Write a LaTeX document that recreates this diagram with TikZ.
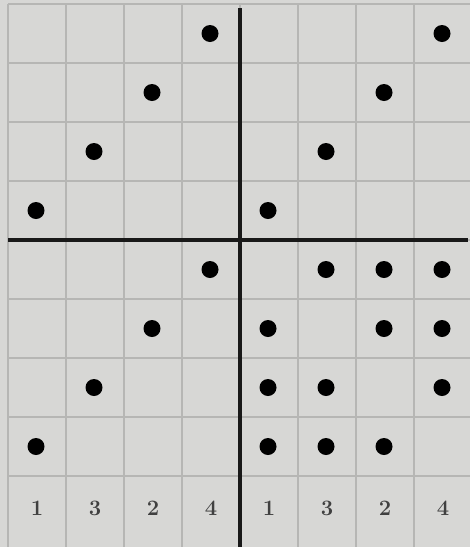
\documentclass[tikz,border=0pt]{standalone}
\usepackage{tikz}
\usetikzlibrary{positioning}
\definecolor{sheetgray}{RGB}{215,215,213}
\definecolor{rulegray}{RGB}{182,182,180}
\tikzset{
  perm grid/.style={draw=rulegray,line width=1pt},
  perm axis/.style={draw=black!90,line width=2pt},
  perm peg/.style={circle,fill=black,minimum size=8.5pt,inner sep=0pt},
  perm label/.style={font=\fontsize{11}{13}\selectfont\bfseries,text=black!75,inner sep=1pt}
}

\begin{document}
\begin{tikzpicture}[x=0.5pt,y=-0.5pt]
  \fill[sheetgray] (0,0) rectangle (470,547);
  \useasboundingbox (0,0) rectangle (470,547);

  % thin cell rules of the sheet
  \foreach \x in {8,66,...,414} \draw[perm grid] (\x,4) -- (\x,547);
  \foreach \y in {4,63,...,476} \draw[perm grid] (8,\y) -- (470,\y);

  % the two heavy dividing rules
  \draw[perm axis] (240,8) -- (240,547);
  \draw[perm axis] (8,240) -- (468,240);

  % pegs, named by row and column
  \foreach \r/\c in {1/4,2/3,3/2,4/1,1/8,2/7,3/6,4/5,
                     5/4,6/3,7/2,8/1,
                     5/6,5/7,5/8,6/5,6/7,6/8,7/5,7/6,7/8,8/5,8/6,8/7}
    \node[perm peg] (p-\r-\c) at ({36+58*(\c-1)},{33.5+59*(\r-1)}) {};

  % column numbers along the bottom
  \foreach \c/\t in {1/1,2/3,3/2,4/4,5/1,6/3,7/2,8/4}
    \node[perm label] (lab-\c) at ({37+58*(\c-1)},508) {\t};
\end{tikzpicture}
\end{document}
